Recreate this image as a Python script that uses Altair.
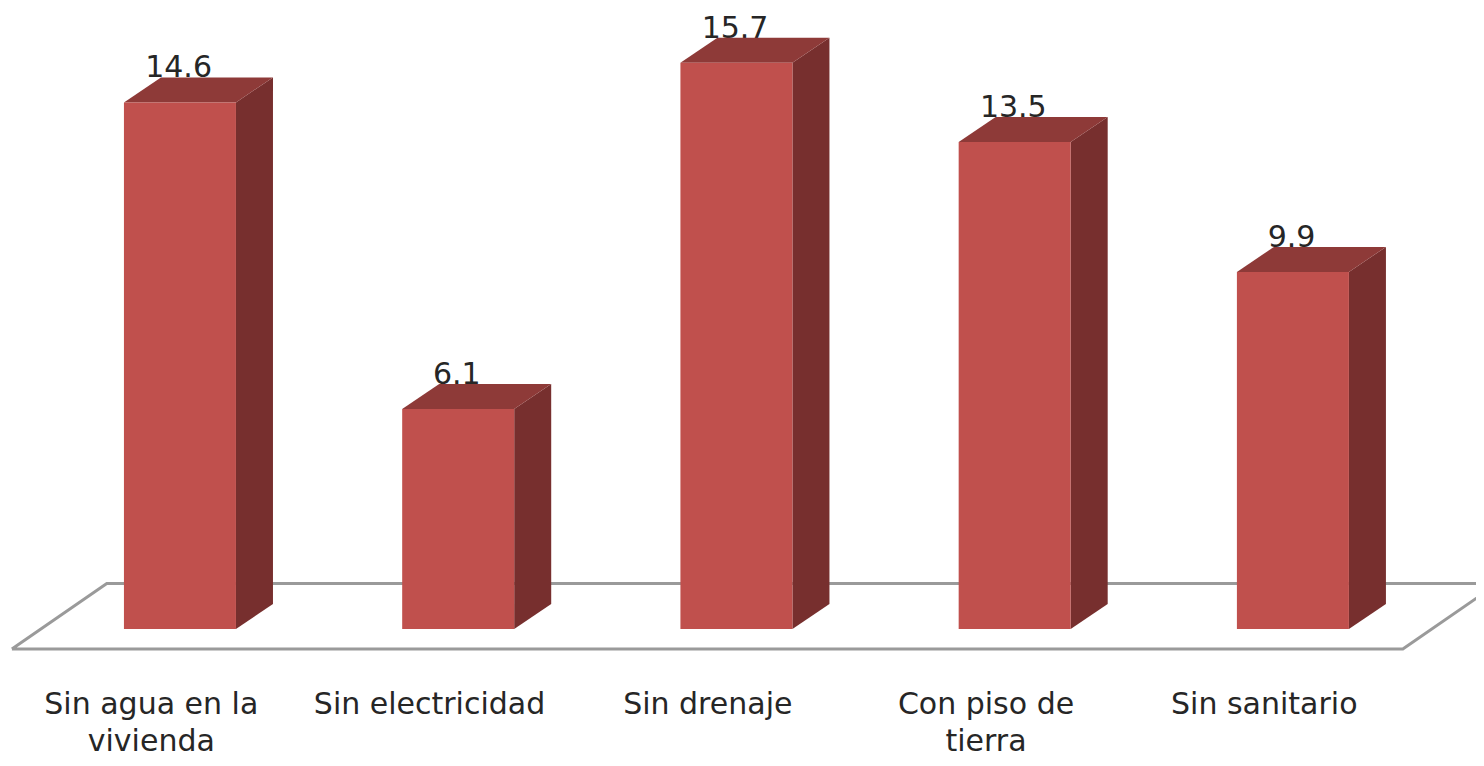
import altair as alt
import pandas as pd

categories = ["Sin agua en la\nvivienda", "Sin electricidad", "Sin drenaje", "Con piso de\ntierra", "Sin sanitario"]
values = [14.6, 6.1, 15.7, 13.5, 9.9]

HALF = 0.2013      # half bar width, category units
DX = 0.133         # 3D depth, category units
DY = 0.693         # 3D depth, value units
XDOM = [-0.618, 4.658]
YDOM = [-3.576, 17.217]
FLOOR_FRONT = -0.555
FLOOR_BACK = 1.26
FLOOR_L = -0.604
FLOOR_R = 4.395
FLOOR_SKEW = 0.341
LABEL_Y = -2.357
LABEL_SHIFT = -0.103
VALUE_SHIFT = -0.005

FRONT = "#C0504D"
SIDE = "#772F2E"
TOP = "#8E3A38"
INK = "#262626"
FONT = "DejaVu Sans"

xs = alt.Scale(domain=XDOM, nice=False, zero=False)
ys = alt.Scale(domain=YDOM, nice=False, zero=False)
X = alt.X("x:Q", scale=xs, axis=None)
Y = alt.Y("y:Q", scale=ys, axis=None)

front = pd.DataFrame([
    {"cat": c, "x": i - HALF, "x2": i + HALF, "y": v, "y2": 0}
    for i, (c, v) in enumerate(zip(categories, values))
])
side = pd.DataFrame([
    row
    for i, (c, v) in enumerate(zip(categories, values))
    for row in (
        {"cat": c, "x": i + HALF, "y": 0, "y2": v},
        {"cat": c, "x": i + HALF + DX, "y": DY, "y2": v + DY},
    )
])
top = pd.DataFrame([
    row
    for i, (c, v) in enumerate(zip(categories, values))
    for row in (
        {"cat": c, "y": v, "x": i - HALF, "x2": i + HALF},
        {"cat": c, "y": v + DY, "x": i - HALF + DX, "x2": i + HALF + DX},
    )
])
floor = pd.DataFrame({
    "x": [FLOOR_L, FLOOR_L + FLOOR_SKEW, FLOOR_R + FLOOR_SKEW, FLOOR_R, FLOOR_L],
    "y": [FLOOR_FRONT, FLOOR_BACK, FLOOR_BACK, FLOOR_FRONT, FLOOR_FRONT],
    "o": [0, 1, 2, 3, 4],
})
value_labels = pd.DataFrame([
    {"x": i + VALUE_SHIFT, "y": v + DY, "t": f"{v:.1f}"} for i, v in enumerate(values)
])
cat_labels = pd.DataFrame([
    {"x": i + LABEL_SHIFT, "y": LABEL_Y, "t": c} for i, c in enumerate(categories)
])

floor_l = alt.Chart(floor).mark_line(color="#9a9a9a", strokeWidth=3, clip=True, strokeJoin="miter").encode(
    x=X, y=Y, order="o:Q")
vals_l = alt.Chart(value_labels).mark_text(
    font=FONT, fontSize=30, color=INK, baseline="alphabetic", align="center"
).encode(x=X, y=Y, text="t:N")
side_l = alt.Chart(side).mark_area(color=SIDE, opacity=1).encode(
    x=X, y=Y, y2="y2:Q", detail="cat:N")
top_l = alt.Chart(top).mark_area(color=TOP, opacity=1, orient="horizontal").encode(
    y=Y, x=X, x2="x2:Q", detail="cat:N")
front_l = alt.Chart(front).mark_rect(color=FRONT).encode(
    x=X, x2="x2:Q", y=Y, y2="y2:Q")
cats_l = alt.Chart(cat_labels).mark_text(
    font=FONT, fontSize=30, color=INK, baseline="alphabetic", align="center",
    lineBreak="\n", lineHeight=37
).encode(x=X, y=Y, text="t:N")

chart = (
    alt.layer(floor_l, vals_l, side_l, top_l, front_l, cats_l)
    .properties(width=1468, height=750, padding=0, background="white",
                autosize=alt.AutoSizeParams(type="none"))
    .configure_view(stroke=None)
)
chart.save("out.html", embed_options={"renderer": "svg", "actions": False})
